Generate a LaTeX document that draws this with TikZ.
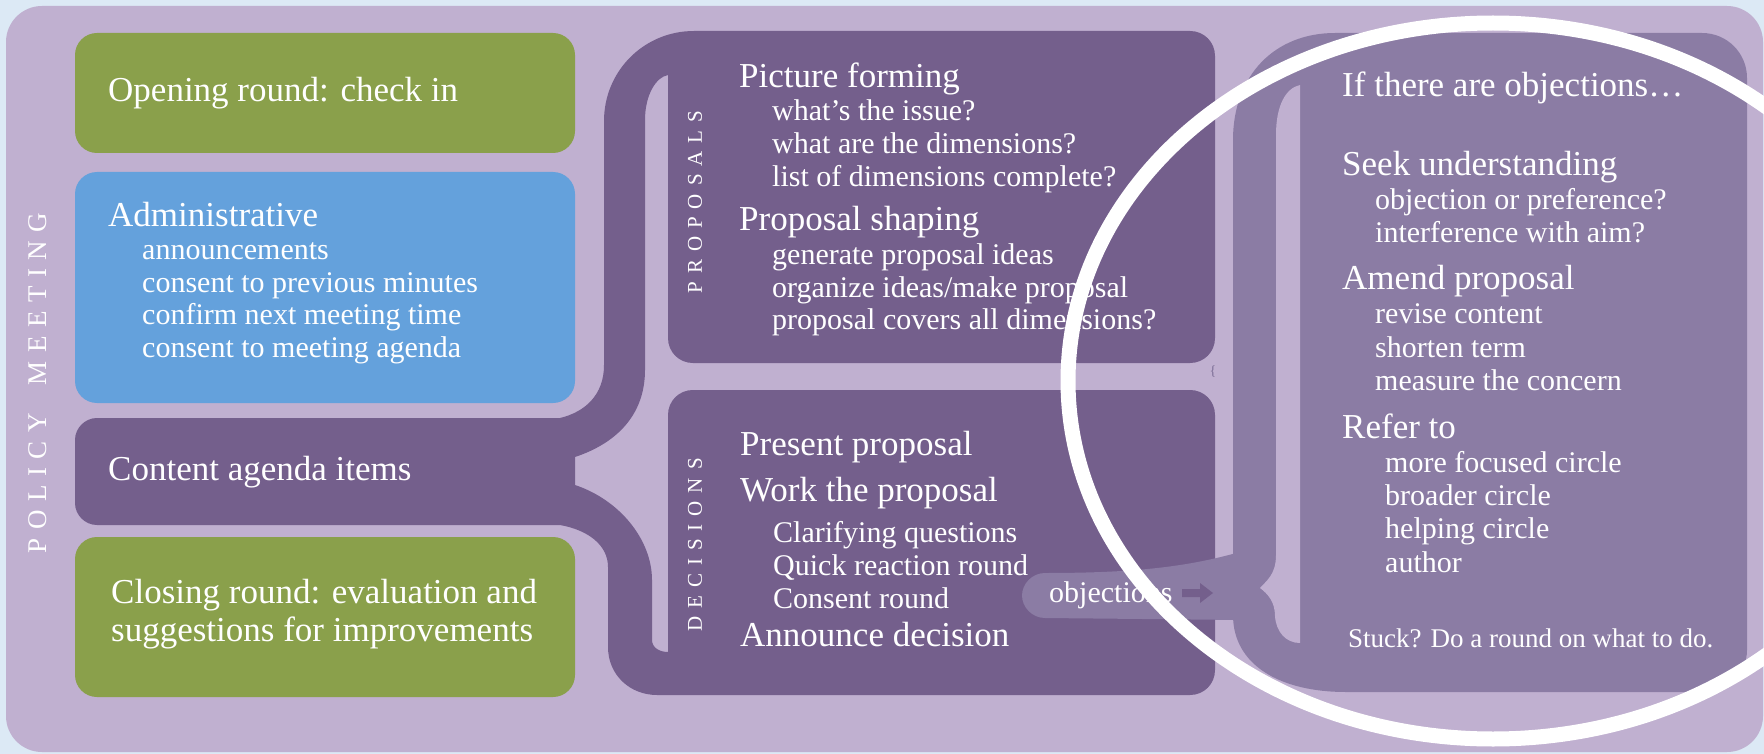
\documentclass[tikz,border=0pt]{standalone}
\usepackage{fontspec}
\setmainfont{Liberation Serif}
\definecolor{bgblue}{HTML}{DCE9F5}
\definecolor{lav}{HTML}{C0B0D0}
\definecolor{dark}{HTML}{745F8C}
\definecolor{grn}{HTML}{8AA04B}
\definecolor{blu}{HTML}{64A1DC}
\definecolor{lightp}{HTML}{8B7CA4}
\definecolor{bracegray}{HTML}{7C6E96}
\begin{document}
\begin{tikzpicture}[x=1pt,y=-1pt,
  box/.style={rounded corners=22pt},
  head/.style={anchor=base west, inner sep=0pt, text=white, font=\fontsize{35}{40}\selectfont},
  sub/.style={anchor=base west, inner sep=0pt, text=white, font=\fontsize{30}{36}\selectfont},
  small/.style={anchor=base west, inner sep=0pt, text=white, font=\fontsize{27}{32}\selectfont},
  vert/.style={rotate=90, inner sep=0pt, text=white, font=\fontsize{21}{24}\selectfont},
  ring/.style={white, line width=15pt}]
\useasboundingbox (0,0) rectangle (1764,754);
% background
\fill[bgblue] (0,0) rectangle (1764,754);
\fill[lav, rounded corners=36pt] (6,6) rectangle (1763,752);
% left column boxes
\fill[grn, box] (75,33) rectangle (575,153);
\fill[blu, box] (75,172) rectangle (575,403);
\fill[grn, box] (75,537) rectangle (575,697);
% content box + bracket + proposals + decisions
\fill[dark] (75,440) .. controls (75,428) and (85,418) .. (97,418)
 -- (560,418)
 .. controls (585,412) and (604,395) .. (604,365)
 -- (604,121)
 .. controls (604,71) and (644,31) .. (694,31)
 -- (1190,31)
 .. controls (1204,31) and (1215,42) .. (1215,56)
 -- (1215,338)
 .. controls (1215,352) and (1204,363) .. (1190,363)
 -- (693,363)
 .. controls (679,363) and (668,352) .. (668,338)
 -- (668,75)
 .. controls (656,77) and (645,95) .. (645,120)
 -- (645,370)
 .. controls (645,412) and (620,442) .. (575,457)
 -- (575,485)
 .. controls (620,500) and (652,540) .. (652,580)
 -- (652,640)
 .. controls (652,648) and (660,652) .. (668,652)
 -- (668,415)
 .. controls (668,401) and (679,390) .. (693,390)
 -- (1190,390)
 .. controls (1204,390) and (1215,401) .. (1215,415)
 -- (1215,670)
 .. controls (1215,684) and (1204,695) .. (1190,695)
 -- (657,695)
 .. controls (630,695) and (608,675) .. (608,647)
 -- (608,567)
 .. controls (608,545) and (588,530) .. (560,525)
 -- (97,525)
 .. controls (85,525) and (75,515) .. (75,503)
 -- cycle;
% objections box with bracket
\fill[lightp] (1233,140) .. controls (1233,75) and (1275,33) .. (1335,33)
 -- (1702,33) .. controls (1727,33) and (1747,53) .. (1747,78)
 -- (1747,650) .. controls (1747,673) and (1728,692) .. (1705,692)
 -- (1346,692) .. controls (1280,692) and (1233,665) .. (1233,615)
 -- cycle;
\fill[lav] (1300,85) .. controls (1286,88) and (1276,105) .. (1276,135)
 -- (1276,555) .. controls (1276,575) and (1266,581) .. (1260,588)
 .. controls (1268,594) and (1275,602) .. (1275,616)
 .. controls (1276,632) and (1286,643) .. (1300,643) -- cycle;
% objections flow
\fill[lightp] (1240,552) .. controls (1190,566) and (1140,573) .. (1045,573)
 .. controls (1032,573) and (1022,584) .. (1022,595.5)
 .. controls (1022,607) and (1032,618) .. (1045,618)
 -- (1240,620) -- cycle;
\fill[dark] (1182,589) -- (1200,589) -- (1200,583) -- (1213,593) -- (1200,603) -- (1200,597) -- (1182,597) -- cycle;
\node[sub, anchor=base west] (obj) at (1049,602) {objections};
% vertical labels
\node[vert, font=\fontsize{27}{30}\selectfont] (policy) at (38,383)
 {P\kern8.5pt O\kern8.5pt L\kern8.5pt I\kern8.5pt C\kern8.5pt Y\kern28pt M\kern8.5pt E\kern8.5pt E\kern8.5pt T\kern8.5pt I\kern8.5pt N\kern8.5pt G};
\node[vert] (props) at (695,202) {P\kern8pt R\kern8pt O\kern8pt P\kern8pt O\kern8pt S\kern8pt A\kern8pt L\kern8pt S};
\node[vert] (decs) at (695,545) {D\kern8pt E\kern8pt C\kern8pt I\kern8pt S\kern8pt I\kern8pt O\kern8pt N\kern8pt S};
% left texts
\node[head] (open) at (108,102) {Opening round: check in};
\node[head] (admin) at (108,226) {Administrative};
\node[sub] (a1) at (142,259) {announcements};
\node[sub] (a2) at (142,292) {consent to previous minutes};
\node[sub] (a3) at (142,324) {confirm next meeting time};
\node[sub] (a4) at (142,357) {consent to meeting agenda};
\node[head] (content) at (108,480) {Content agenda items};
\node[head] (close1) at (111,603) {Closing round: evaluation and};
\node[head] (close2) at (111,641) {suggestions for improvements};
% proposals texts
\node[head] (pf) at (739,88) {Picture forming};
\node[sub] (pf1) at (772,121) {what’s the issue?};
\node[sub] (pf2) at (772,154) {what are the dimensions?};
\node[sub] (pf3) at (772,187) {list of dimensions complete?};
\node[head] (ps) at (739,231) {Proposal shaping};
\node[sub] (ps1) at (772,264) {generate proposal ideas};
\node[sub] (ps2) at (772,297) {organize ideas/make proposal};
\node[sub] (ps3) at (772,329) {proposal covers all dimensions?};
% decisions texts
\node[head] (d1) at (740,455) {Present proposal};
\node[head] (d2) at (740,501) {Work the proposal};
\node[sub] (d21) at (773,542) {Clarifying questions};
\node[sub] (d22) at (773,575) {Quick reaction round};
\node[sub] (d23) at (773,608) {Consent round};
\node[head] (d3) at (740,646) {Announce decision};
% objections texts
\node[head] (o0) at (1342,97) {If there are objections…};
\node[head] (o1) at (1342,176) {Seek understanding};
\node[sub] (o11) at (1375,210) {objection or preference?};
\node[sub] (o12) at (1375,242) {interference with aim?};
\node[head] (o2) at (1342,289) {Amend proposal};
\node[sub] (o21) at (1375,323) {revise content};
\node[sub] (o22) at (1375,357) {shorten term};
\node[sub] (o23) at (1375,390) {measure the concern};
\node[head] (o3) at (1342,438) {Refer to};
\node[sub] (o31) at (1385,472) {more focused circle};
\node[sub] (o32) at (1385,505) {broader circle};
\node[sub] (o33) at (1385,538) {helping circle};
\node[sub] (o34) at (1385,572) {author};
\node[small] (stuck) at (1348,647) {Stuck? Do a round on what to do.};
% stray brace
\node[inner sep=0pt, text=bracegray, font=\fontsize{14}{16}\selectfont] (brace) at (1213,372) {\{};
% white ring
\begin{scope}
\clip (0,0) rectangle (1764,754);
\draw[ring] (1493,381) ellipse [x radius=425, y radius=358];
\end{scope}
\end{tikzpicture}
\end{document}
